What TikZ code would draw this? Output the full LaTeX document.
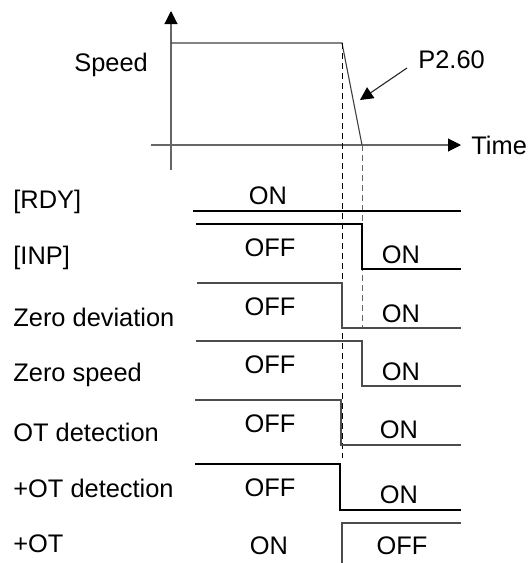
\documentclass[tikz,border=0pt]{standalone}
\usepackage{fontspec}
\setmainfont{Liberation Sans}
\usepackage{tikz}
\usetikzlibrary{arrows.meta, positioning}

\begin{document}
\begin{tikzpicture}[
    x=0.5pt, y=-0.5pt,
    txt/.style={inner sep=0pt, font=\fontsize{12.7}{15}\selectfont},
    lbl/.style={txt, anchor=west},
    axis/.style={black!60, line width=0.55pt},
    sig/.style={black!85, line width=0.55pt},
    guide/.style={dashed, line width=0.5pt, dash pattern=on 3pt off 2pt},
    tip/.style={-{Triangle[length=6.5pt, width=6.5pt, color=black]}},
]
\useasboundingbox (0,0) rectangle (528,563);

% Speed profile
\coordinate (org) at (171,145);
\coordinate (ytop) at (171,11);
\coordinate (ybot) at (171,170);
\coordinate (xl) at (151,145);
\coordinate (xr) at (461,145);
\draw[axis, tip] (ybot) -- (ytop);
\draw[axis, tip] (xl) -- (xr);
\node[lbl] (speed) at (74,65) {Speed};
\node[lbl] (time) at (471,145) {Time};

\coordinate (brk) at (342,43);
\coordinate (stop) at (362,145);
\draw[sig, black!75] (171,43) -- (brk) -- (stop);

% P2.60
\node[lbl] (par) at (418,60) {P2.60};
\coordinate (parfrom) at (407,68);
\coordinate (parto) at (360,100);
\draw[sig, tip] (parfrom) -- (parto);

% Guide lines
\draw[guide, black] (brk) -- (342,458);
\draw[guide, black!60] (stop) -- (362,328);

% Signal names
\node[lbl] (rdy) at (13,202) {[RDY]};
\node[lbl] (inp) at (13,258) {[INP]};
\node[lbl] (zdev) at (13,317) {Zero deviation};
\node[lbl] (zspd) at (13,375) {Zero speed};
\node[lbl] (ot) at (13,432) {OT detection};
\node[lbl] (pot) at (13,488) {+OT detection};
\node[lbl] (potin) at (13,544) {+OT};

% Waveforms
\draw[sig, black] (193,211) -- (461,211);
\node[txt] (rdyon) at (268,196) {ON};

\draw[sig, black] (196,224) -- (362,224) -- (362,269) -- (461,269);
\node[txt] (inpoff) at (270,248) {OFF};
\node[txt] (inpon) at (401,255) {ON};

\draw[sig, black!70] (197,283) -- (342,283) -- (342,328) -- (461,328);
\node[txt] (zdevoff) at (270,307) {OFF};
\node[txt] (zdevon) at (401,314) {ON};

\draw[sig, black!70] (196,341) -- (362,341) -- (362,386) -- (461,386);
\node[txt] (zspdoff) at (270,365) {OFF};
\node[txt] (zspdon) at (401,372) {ON};

\draw[sig, black!70] (195,400) -- (341,400) -- (341,445) -- (461,445);
\node[txt] (otoff) at (270,424) {OFF};
\node[txt] (oton) at (399,430) {ON};

\draw[sig, black] (195,464) -- (340,464) -- (340,510) -- (461,510);
\node[txt] (potoff) at (270,488) {OFF};
\node[txt] (poton) at (399,495) {ON};

\draw[sig, black!70] (342,563) -- (342,523) -- (461,523);
\node[txt] (potinon) at (269,546) {ON};
\node[txt] (potinoff) at (402,546) {OFF};

\end{tikzpicture}
\end{document}
